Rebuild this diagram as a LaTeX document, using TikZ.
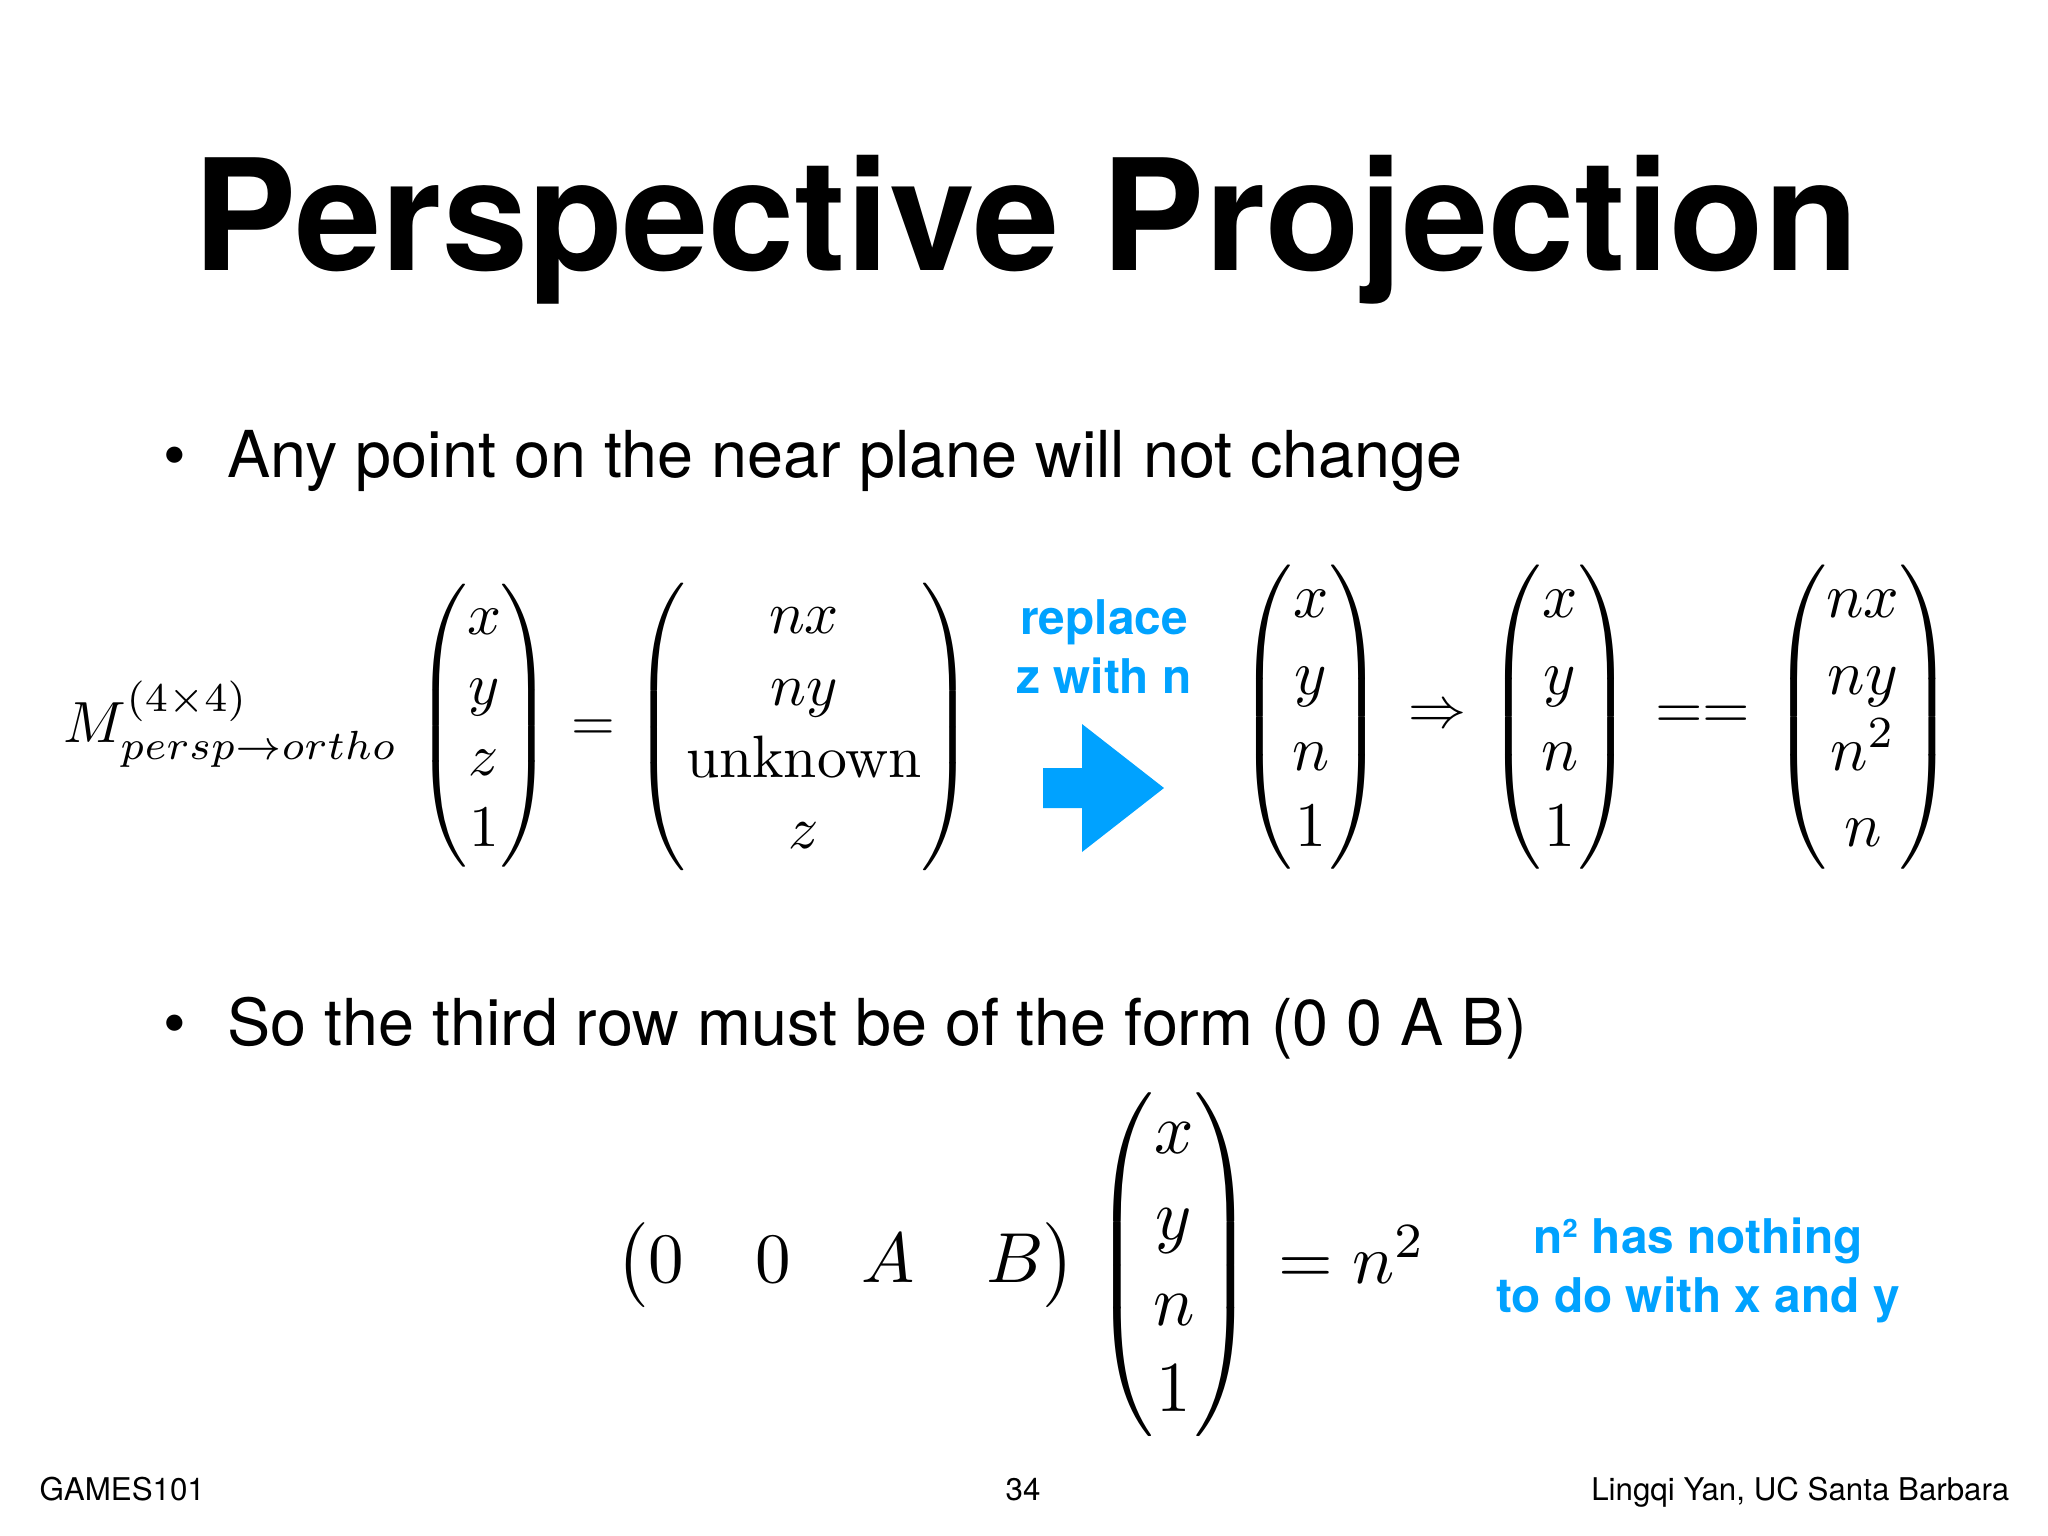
\documentclass[tikz,border=0pt]{standalone}
\usepackage{amsmath}
\usepackage{graphicx}
\usepackage[no-math]{fontspec}
\usepackage{xcolor}
\newfontfamily\hfont{TeX Gyre Heros}
\definecolor{notecolor}{RGB}{0,162,255}
\newlength\pxu
\setlength\pxu{0.01cm}
\newcommand{\colvec}[4]{\begin{pmatrix}#1\\#2\\#3\\#4\end{pmatrix}}
\newcommand{\fitbox}[3]{\resizebox*{#1\pxu}{#2\pxu}{$#3$}}
\tikzset{
	title node/.style={font=\hfont\bfseries\fontsize{44}{50}\selectfont,anchor=base,inner sep=0pt},
	bullet node/.style={font=\hfont\fontsize{18.4}{22}\selectfont,anchor=base west,inner sep=0pt},
	dot node/.style={font=\hfont\fontsize{18.4}{22}\selectfont,anchor=base,inner sep=0pt},
	note node/.style={font=\hfont\bfseries\fontsize{13.6}{16.5}\selectfont,text=notecolor,align=center,anchor=base,inner sep=0pt},
	math node/.style={inner sep=0pt,outer sep=0pt},
	foot node/.style={font=\hfont\fontsize{8.9}{10}\selectfont,anchor=base,inner sep=0pt}
}

\begin{document}
\begin{tikzpicture}[x=0.01cm,y=-0.01cm]
	\path[fill=white,use as bounding box] (0,0) rectangle (2048,1536);
	\node [title node] (title) at (1026,270) {Perspective Projection};
	\node [dot node] (dot1) at (175,477) {•};
	\node [bullet node] (line1) at (227,477) {Any point on the near plane will not change};
	\node [dot node] (dot2) at (175,1045) {•};
	\node [bullet node] (line2) at (227,1045) {So the third row must be of the form (0 0 A B)};
	\node [math node,anchor=base west] (mlabel) at (64,742) {\resizebox{334\pxu}{!}{$M^{(4\times4)}_{persp\to ortho}$}};
	\node [math node] (vecA) at (484,726) {\fitbox{138}{283}{\colvec{x}{y}{z}{1}}};
	\node [math node] (eqA) at (593,730) {\scalebox{1.6}{$=$}};
	\node [math node] (vecB) at (804,727) {\fitbox{340}{287}{\colvec{nx}{ny}{\mathrm{unknown}}{z}}};
	\node [note node] (note1) at (1104,693) {replace\\z with n};
	\coordinate (arr) at (1043,768);
	\fill [notecolor] (arr) -- ++(39,0) -- ++(0,-44) -- ++(82,64) -- ++(-82,64) -- ++(0,-44) -- ++(-39,0) -- cycle;
	\node [math node] (vecC) at (1311,717) {\fitbox{145}{305}{\colvec{x}{y}{n}{1}}};
	\node [math node] (impl) at (1437,717) {\scalebox{1.65}{$\Rightarrow$}};
	\node [math node] (vecD) at (1560,717) {\fitbox{145}{305}{\colvec{x}{y}{n}{1}}};
	\node [math node] (eqeq) at (1703,717) {\resizebox{95\pxu}{!}{$==$}};
	\node [math node] (vecE) at (1863,717) {\fitbox{182}{305}{\colvec{nx}{ny}{n^2}{n}}};
	\node [math node] (rowvec) at (846,1265) {\fitbox{460}{85}{\begin{pmatrix}0&0&A&B\end{pmatrix}}};
	\node [math node] (vecF) at (1174,1265) {\fitbox{162}{344}{\colvec{x}{y}{n}{1}}};
	\node [math node,anchor=base west] (eqn) at (1278,1283) {\scalebox{2}{$=n^2$}};
	\node [note node] (note2) at (1698,1312) {n² has nothing\\to do with x and y};
	\node [foot node,anchor=base west] (course) at (39,1500) {GAMES101};
	\node [foot node] (page) at (1023,1500) {34};
	\node [foot node,anchor=base east] (author) at (2010,1500) {Lingqi Yan, UC Santa Barbara};
\end{tikzpicture}
\end{document}
